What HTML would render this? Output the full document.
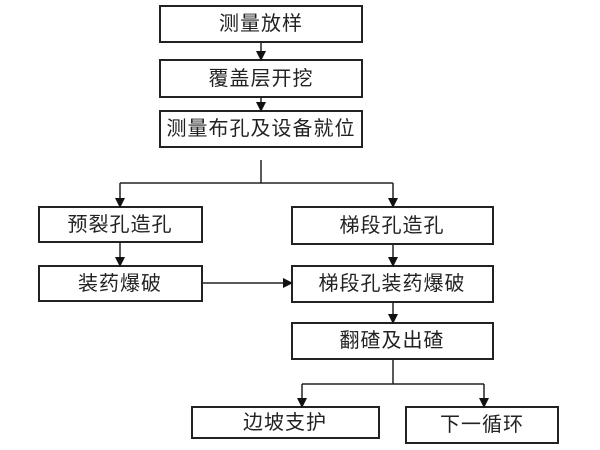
<!DOCTYPE html>
<html><head><meta charset="utf-8"><style>
html,body{margin:0;padding:0;background:#fff;}
svg{display:block;}
text{font-family:"Liberation Sans","Noto Sans CJK SC","WenQuanYi Zen Hei",sans-serif;font-size:20px;fill:#222;text-anchor:middle;dominant-baseline:central;letter-spacing:1px;}
</style></head><body>
<svg width="600" height="450" viewBox="0 0 600 450" xmlns="http://www.w3.org/2000/svg">
<defs><marker id="a" markerWidth="10" markerHeight="10" refX="5" refY="9" orient="auto" markerUnits="userSpaceOnUse" viewBox="0 0 10 10"><path d="M0,0 L10,0 L5,10 Z" fill="#111" transform="rotate(-90 5 5)"/></marker>
<marker id="r" markerWidth="10" markerHeight="10" refX="9" refY="5" markerUnits="userSpaceOnUse" viewBox="0 0 10 10"><path d="M0,0 L10,5 L0,10 Z" fill="#111"/></marker>
<marker id="d" markerWidth="10" markerHeight="10" refX="5" refY="9" markerUnits="userSpaceOnUse" viewBox="0 0 10 10"><path d="M0,0 L10,0 L5,10 Z" fill="#111"/></marker></defs>
<g fill="none" stroke="#222" stroke-width="2">
<rect x="160" y="6" width="202" height="36"/>
<rect x="160" y="60" width="202" height="37"/>
<rect x="160" y="111" width="202" height="36"/>
<rect x="39" y="207" width="163" height="35"/>
<rect x="292" y="207" width="201" height="37"/>
<rect x="39" y="266" width="163" height="35"/>
<rect x="292" y="266" width="201" height="36"/>
<rect x="292" y="323" width="201" height="36"/>
<rect x="192" y="407" width="187" height="31"/>
<rect x="406" y="407" width="152" height="36"/>
</g>
<g fill="none" stroke="#222" stroke-width="1.5">
<line x1="261" y1="42" x2="261" y2="60" marker-end="url(#d)"/>
<line x1="261" y1="97" x2="261" y2="111" marker-end="url(#d)"/>
<polyline points="261,160 261,183"/>
<line x1="120" y1="183" x2="393" y2="183"/>
<line x1="120" y1="183" x2="120" y2="207" marker-end="url(#d)"/>
<line x1="393" y1="183" x2="393" y2="207" marker-end="url(#d)"/>
<line x1="120" y1="242" x2="120" y2="266" marker-end="url(#d)"/>
<line x1="393" y1="244" x2="393" y2="266" marker-end="url(#d)"/>
<line x1="202" y1="283" x2="292" y2="283" marker-end="url(#r)"/>
<line x1="393" y1="302" x2="393" y2="323" marker-end="url(#d)"/>
<polyline points="393,359 393,384"/>
<line x1="302" y1="384" x2="484" y2="384"/>
<line x1="302" y1="384" x2="302" y2="407" marker-end="url(#d)"/>
<line x1="484" y1="384" x2="484" y2="407" marker-end="url(#d)"/>
</g>
<text x="261" y="24">测量放样</text>
<text x="261" y="79">覆盖层开挖</text>
<text x="261" y="129">测量布孔及设备就位</text>
<text x="120" y="225">预裂孔造孔</text>
<text x="392" y="226">梯段孔造孔</text>
<text x="120" y="284">装药爆破</text>
<text x="392" y="284">梯段孔装药爆破</text>
<text x="392" y="341">翻碴及出碴</text>
<text x="285" y="423">边坡支护</text>
<text x="482" y="425">下一循环</text>
</svg>
</body></html>
